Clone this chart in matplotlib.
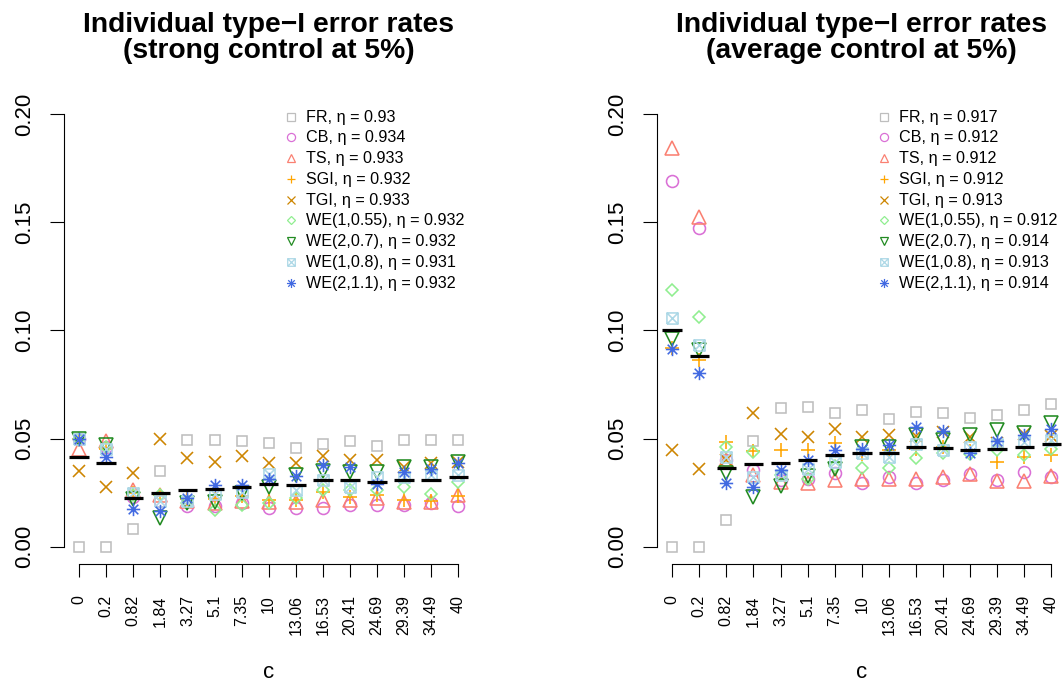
import numpy as np
import matplotlib
matplotlib.use("Agg")
import matplotlib.pyplot as plt
from matplotlib.path import Path

plt.rcParams['font.family'] = ['Liberation Sans', 'DejaVu Sans']

# tuning parameter c (categorical axis)
c_labels = ["0", "0.2", "0.82", "1.84", "3.27", "5.1", "7.35", "10", "13.06",
            "16.53", "20.41", "24.69", "29.39", "34.49", "40"]

# --- strong control at 5% (left panel) ---
fr_strong = [0.000, 0.000, 0.0084, 0.0350, 0.0495, 0.0495, 0.0489, 0.0480, 0.0457, 0.0477, 0.0489, 0.0466, 0.0495, 0.0492, 0.0492]
cb_strong = [0.050, 0.046, 0.023, 0.021, 0.019, 0.019, 0.020, 0.018, 0.0181, 0.018, 0.0192, 0.0195, 0.0192, 0.020, 0.0188]
ts_strong = [0.045, 0.049, 0.026, 0.024, 0.021, 0.020, 0.021, 0.0207, 0.0207, 0.0215, 0.0215, 0.0223, 0.0207, 0.0207, 0.0241]
sgi_strong = [0.050, 0.045, 0.025, 0.024, 0.022, 0.022, 0.0235, 0.0215, 0.0215, 0.0254, 0.023, 0.0238, 0.0215, 0.021, 0.0235]
tgi_strong = [0.0349, 0.0274, 0.0341, 0.0497, 0.0408, 0.0391, 0.0421, 0.0385, 0.0385, 0.042, 0.0403, 0.0403, 0.037, 0.0389, 0.039]
we1_strong = [0.050, 0.046, 0.024, 0.024, 0.020, 0.0169, 0.0192, 0.020, 0.0226, 0.0261, 0.0261, 0.0261, 0.0274, 0.0246, 0.030]
we2_strong = [0.050, 0.047, 0.022, 0.0135, 0.020, 0.0207, 0.025, 0.0274, 0.0331, 0.0351, 0.0346, 0.0346, 0.0369, 0.037, 0.039]
we3_strong = [0.050, 0.045, 0.025, 0.021, 0.021, 0.0246, 0.0254, 0.0338, 0.0261, 0.0308, 0.0277, 0.0323, 0.0323, 0.0331, 0.0331]
we4_strong = [0.0497, 0.0415, 0.0174, 0.0166, 0.0223, 0.0285, 0.0285, 0.0315, 0.0326, 0.0377, 0.0369, 0.0292, 0.0346, 0.0358, 0.0388]
avg_strong = [0.0417, 0.0385, 0.0223, 0.0250, 0.0264, 0.0269, 0.0277, 0.0292, 0.0287, 0.0310, 0.0310, 0.0301, 0.0310, 0.0310, 0.0323]
eta_strong = ["0.93", "0.934", "0.933", "0.932", "0.933", "0.932", "0.932", "0.931", "0.932"]

# --- average control at 5% (right panel) ---
fr_avg = [0.000, 0.000, 0.0123, 0.0488, 0.0639, 0.0647, 0.0619, 0.0634, 0.059, 0.0624, 0.062, 0.0597, 0.0608, 0.0634, 0.0658]
cb_avg = [0.1692, 0.1471, 0.040, 0.0354, 0.0308, 0.0315, 0.0341, 0.0295, 0.0323, 0.0295, 0.031, 0.0338, 0.031, 0.0346, 0.032]
ts_avg = [0.1841, 0.1522, 0.040, 0.033, 0.030, 0.0295, 0.031, 0.0315, 0.0315, 0.0315, 0.0323, 0.0335, 0.0304, 0.0304, 0.0326]
sgi_avg = [0.092, 0.0862, 0.0485, 0.0443, 0.0449, 0.0449, 0.048, 0.0428, 0.0446, 0.0454, 0.0462, 0.0443, 0.0392, 0.0415, 0.0423]
tgi_avg = [0.0446, 0.0358, 0.040, 0.0619, 0.052, 0.0505, 0.0543, 0.0508, 0.0516, 0.051, 0.053, 0.0505, 0.048, 0.052, 0.051]
we1_avg = [0.1186, 0.106, 0.0459, 0.0439, 0.033, 0.0315, 0.0372, 0.0366, 0.0366, 0.0411, 0.0431, 0.043, 0.0446, 0.0423, 0.0454]
we2_avg = [0.0958, 0.091, 0.0341, 0.023, 0.028, 0.0326, 0.0357, 0.0459, 0.0459, 0.0516, 0.0492, 0.0516, 0.0539, 0.0526, 0.057]
we3_avg = [0.1055, 0.0932, 0.0415, 0.0323, 0.033, 0.0361, 0.0392, 0.0434, 0.0415, 0.0477, 0.0449, 0.046, 0.0477, 0.0485, 0.0492]
we4_avg = [0.0913, 0.0804, 0.0295, 0.0274, 0.0354, 0.0403, 0.0449, 0.0454, 0.0469, 0.0554, 0.0536, 0.0431, 0.0489, 0.0516, 0.0546]
avg_avg = [0.1001, 0.088, 0.0366, 0.0384, 0.0389, 0.0403, 0.0425, 0.0431, 0.0431, 0.0462, 0.0457, 0.0449, 0.0454, 0.0459, 0.0477]
eta_avg = ["0.917", "0.912", "0.912", "0.912", "0.913", "0.912", "0.914", "0.913", "0.914"]

methods = ["FR", "CB", "TS", "SGI", "TGI", "WE(1,0.55)", "WE(2,0.7)", "WE(1,0.8)", "WE(2,1.1)"]
colors = ["#BEBEBE", "#DA70D6", "#FA8072", "#FFA500", "#CD8500",
          "#90EE90", "#228B22", "#ADD8E6", "#4169E1"]

# R-like pch 7 (boxed x) and pch 8 (asterisk)
M, L = Path.MOVETO, Path.LINETO
boxx = Path([(-1, -1), (1, -1), (1, 1), (-1, 1), (-1, -1), (-1, -1), (1, 1), (-1, 1), (1, -1)],
            [M, L, L, L, L, M, L, M, L])
r = 0.72
aster = Path([(-1, 0), (1, 0), (0, -1), (0, 1), (-r, -r), (r, r), (-r, r), (r, -r)],
             [M, L, M, L, M, L, M, L])
markers = ["s", "o", "^", "+", "x", "D", "v", boxx, aster]
sizes = [7.9, 8.6, 9.4, 9.4, 8.0, 6.6, 9.4, 8.0, 9.6]

x = np.arange(1, 16)


def panel(ax, series, bar, etas, subtitle):
    for vals, mk, col, ms in zip(series, markers, colors, sizes):
        ax.plot(x, vals, linestyle="none", marker=mk, ms=ms, mfc="none",
                mec=col, mew=1.15, clip_on=False)
    ax.hlines(bar, x - 0.36, x + 0.36, colors="black", lw=2.3, zorder=5)

    ax.set_xlim(1 - 0.56, 15 + 0.56)
    ax.set_ylim(-0.008, 0.208)
    for s in ["top", "right"]:
        ax.spines[s].set_visible(False)
    ax.spines["left"].set_bounds(0, 0.2)
    ax.spines["bottom"].set_bounds(1, 15)
    ax.spines["left"].set_linewidth(0.8)
    ax.spines["bottom"].set_linewidth(0.8)

    ax.set_yticks([0, 0.05, 0.10, 0.15, 0.20])
    ax.set_yticklabels(["0.00", "0.05", "0.10", "0.15", "0.20"], rotation=90, va="center")
    ax.tick_params(axis="y", length=10, width=0.8, pad=11, labelsize=16)
    ax.set_xticks(x)
    ax.set_xticklabels(c_labels, rotation=90)
    ax.tick_params(axis="x", length=9.4, width=0.8, pad=13, labelsize=11.5)

    ax.text(0.5, -0.243, "c", transform=ax.transAxes, ha="center", va="baseline", fontsize=16)
    ax.text(0.5, 1.139, "Individual type\u2212I error rates", transform=ax.transAxes,
            ha="center", va="baseline", fontsize=20.3, fontweight="bold")
    ax.text(0.5, 1.082, subtitle, transform=ax.transAxes,
            ha="center", va="baseline", fontsize=20.3, fontweight="bold")

    # legend drawn by hand, R style
    for i, (name, eta) in enumerate(zip(methods, etas)):
        yy = 1 - (20.0 + 20.75 * i) / 467.3
        ax.plot([0.5536], [yy], transform=ax.transAxes, linestyle="none",
                marker=markers[i], ms=sizes[i] * 0.68, mfc="none", mec=colors[i],
                mew=0.9, clip_on=False)
        ax.text(0.591, yy - 5.0 / 467.3, f"{name}, \u03b7 = {eta}", transform=ax.transAxes,
                ha="left", va="baseline", fontsize=11.6)


fig = plt.figure(figsize=(10.63, 6.85), dpi=100)
ax1 = fig.add_axes([0.0602, 0.1766, 0.3852, 0.6822])
ax2 = fig.add_axes([0.6181, 0.1766, 0.3852, 0.6822])

panel(ax1, [fr_strong, cb_strong, ts_strong, sgi_strong, tgi_strong,
            we1_strong, we2_strong, we3_strong, we4_strong],
      avg_strong, eta_strong, "(strong control at 5%)")
panel(ax2, [fr_avg, cb_avg, ts_avg, sgi_avg, tgi_avg,
            we1_avg, we2_avg, we3_avg, we4_avg],
      avg_avg, eta_avg, "(average control at 5%)")

fig.savefig("out.png", dpi=100)
